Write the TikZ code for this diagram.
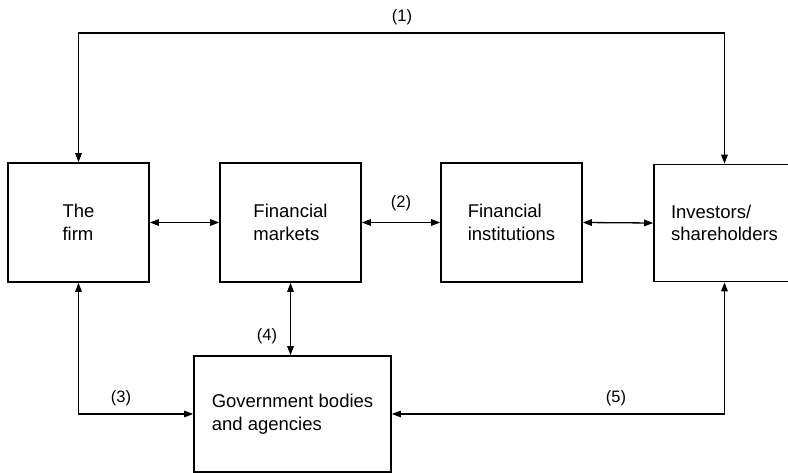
\documentclass[tikz,border=0pt]{standalone}
\usepackage{fontspec}
\setmainfont{Liberation Sans}
\usetikzlibrary{arrows.meta}
\begin{document}
\begin{tikzpicture}[x=1pt,y=-1pt,
  box/.style={draw, line width=1.6pt, inner sep=0pt, align=left,
    font=\fontsize{18.5}{22.5}\selectfont},
  conn/.style={line width=1.3pt, {Triangle[length=9pt,width=6.5pt]}-{Triangle[length=9pt,width=6.5pt]}},
  lab/.style={font=\fontsize{16.5}{18}\selectfont, inner sep=0pt}]
\useasboundingbox (0,0) rectangle (788,473);
\node[box, minimum width=141pt, minimum height=119pt] (firm) at (78.5,222.5) {The\\firm};
\node[box, minimum width=141pt, minimum height=119pt] (mkt) at (290.5,222.5) {Financial\\markets};
\node[box, minimum width=141pt, minimum height=119pt] (inst) at (511.5,222.5) {Financial\\institutions};
\node[box, minimum width=141pt, minimum height=117pt] (inv) at (724.5,223) {Investors/\\shareholders};
\node[box, minimum width=197pt, minimum height=116pt] (gov) at (292.5,414) {Government bodies\\and agencies};
\coordinate (t1) at (79,33);
\draw[conn] (firm.north) |- (t1) -| (inv.north);
\draw[conn] (firm.east) -- (mkt.west);
\draw[conn] (mkt.east) -- (inst.west);
\draw[conn] (inst.east) -- (inv.west);
\draw[conn] (mkt.south) -- (mkt.south |- gov.north);
\draw[conn] (firm.south) |- (gov.west);
\draw[conn] (gov.east) -| (inv.south);
\node[lab] (l1) at (402,17) {(1)};
\node[lab] (l2) at (401,203) {(2)};
\node[lab] (l4) at (267,336) {(4)};
\node[lab] (l3) at (121,398) {(3)};
\node[lab] (l5) at (616,398) {(5)};
\end{tikzpicture}
\end{document}
